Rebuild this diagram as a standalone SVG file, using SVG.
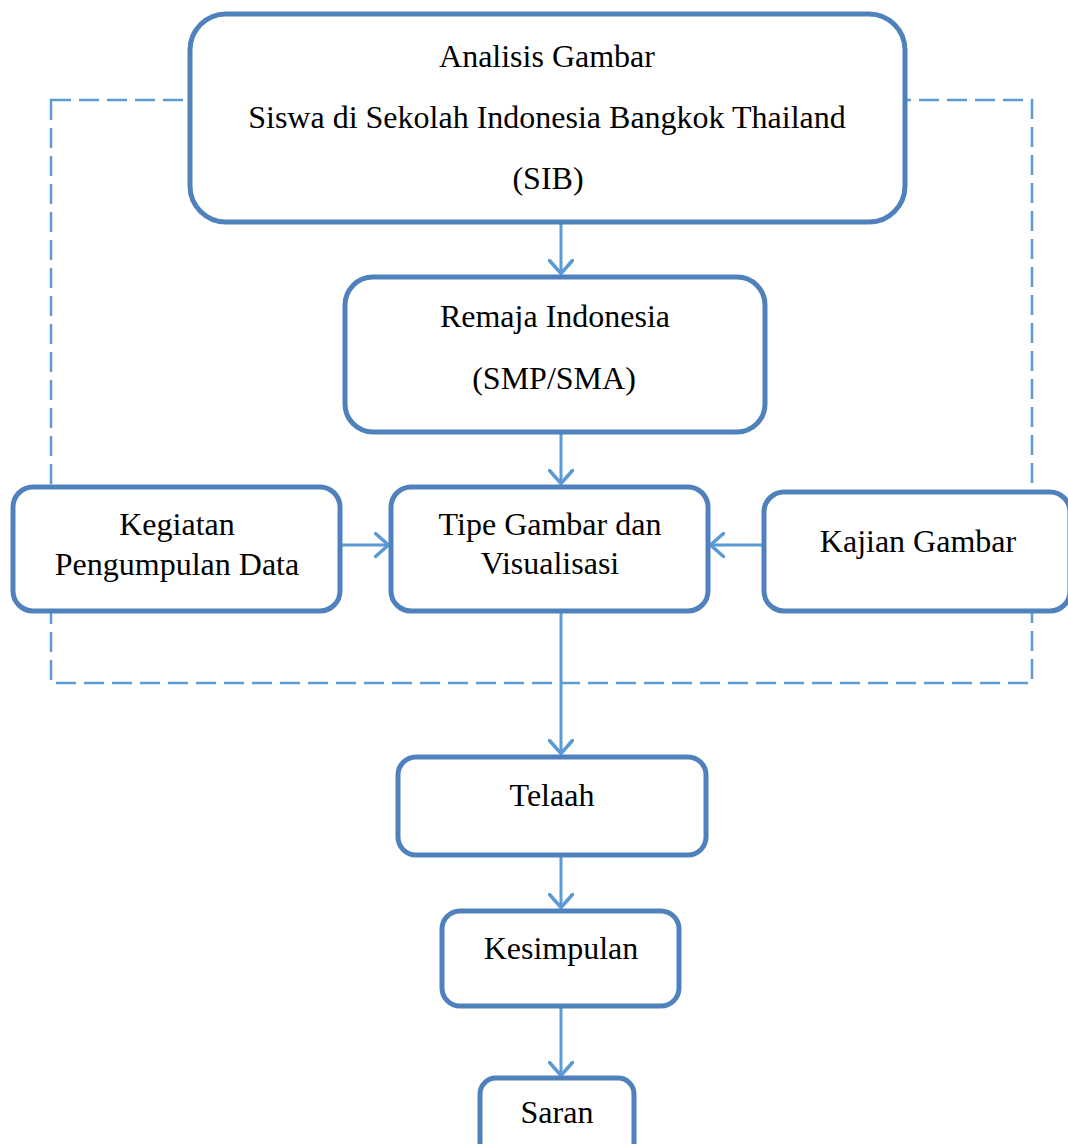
<svg xmlns="http://www.w3.org/2000/svg" width="1068" height="1144" viewBox="0 0 1068 1144">
<style>
.box{fill:#fff;stroke:#4f81bd;stroke-width:5}
.t{font-family:"Liberation Serif","Times New Roman",serif;font-size:32px;fill:#000;text-anchor:middle}
.c{fill:none;stroke:#5b9bd5;stroke-width:3}
.d{fill:none;stroke:#5b9bd5;stroke-width:2.5;stroke-dasharray:20 8}
</style>
<defs>
<marker id="a" viewBox="0 0 16 26" refX="15" refY="13" markerWidth="16" markerHeight="26" markerUnits="userSpaceOnUse" orient="auto">
<path d="M1.5,1.5 L14.5,13 L1.5,24.5" fill="none" stroke="#5b9bd5" stroke-width="3.5" stroke-linecap="round"/>
</marker>
</defs>
<rect class="d" x="51" y="100" width="981" height="583"/>
<g id="connectors">
<line class="c" x1="561" y1="222" x2="561" y2="274" marker-end="url(#a)"/>
<line class="c" x1="561" y1="432" x2="561" y2="484" marker-end="url(#a)"/>
<line class="c" x1="340" y1="545" x2="389" y2="545" marker-end="url(#a)"/>
<line class="c" x1="764" y1="545" x2="710" y2="545" marker-end="url(#a)"/>
<line class="c" x1="561" y1="611" x2="561" y2="754" marker-end="url(#a)"/>
<line class="c" x1="561" y1="855" x2="561" y2="908" marker-end="url(#a)"/>
<line class="c" x1="561" y1="1006" x2="561" y2="1076" marker-end="url(#a)"/>
</g>
<g id="n-analisis">
<rect class="box" x="190" y="14" width="715" height="208" rx="36"/>
<text class="t" x="547" y="67">Analisis Gambar</text>
<text class="t" x="547" y="128">Siswa di Sekolah Indonesia Bangkok Thailand</text>
<text class="t" x="548" y="189">(SIB)</text>
</g>
<g id="n-remaja">
<rect class="box" x="345" y="277" width="420" height="155" rx="28"/>
<text class="t" x="555" y="327">Remaja Indonesia</text>
<text class="t" x="554" y="389">(SMP/SMA)</text>
</g>
<g id="n-kegiatan">
<rect class="box" x="13" y="487" width="327" height="124" rx="20"/>
<text class="t" x="177" y="535">Kegiatan</text>
<text class="t" x="177" y="575">Pengumpulan Data</text>
</g>
<g id="n-tipe">
<rect class="box" x="391" y="487" width="317" height="124" rx="20"/>
<text class="t" x="550" y="535">Tipe Gambar dan</text>
<text class="t" x="550" y="574">Visualisasi</text>
</g>
<g id="n-kajian">
<rect class="box" x="764" y="492" width="306" height="119" rx="20"/>
<text class="t" x="918" y="552">Kajian Gambar</text>
</g>
<g id="n-telaah">
<rect class="box" x="398" y="757" width="308" height="98" rx="18"/>
<text class="t" x="552" y="806">Telaah</text>
</g>
<g id="n-kesimpulan">
<rect class="box" x="442" y="911" width="237" height="95" rx="18"/>
<text class="t" x="561" y="959">Kesimpulan</text>
</g>
<g id="n-saran">
<rect class="box" x="480" y="1078" width="154" height="80" rx="16"/>
<text class="t" x="557" y="1123">Saran</text>
</g>
</svg>
